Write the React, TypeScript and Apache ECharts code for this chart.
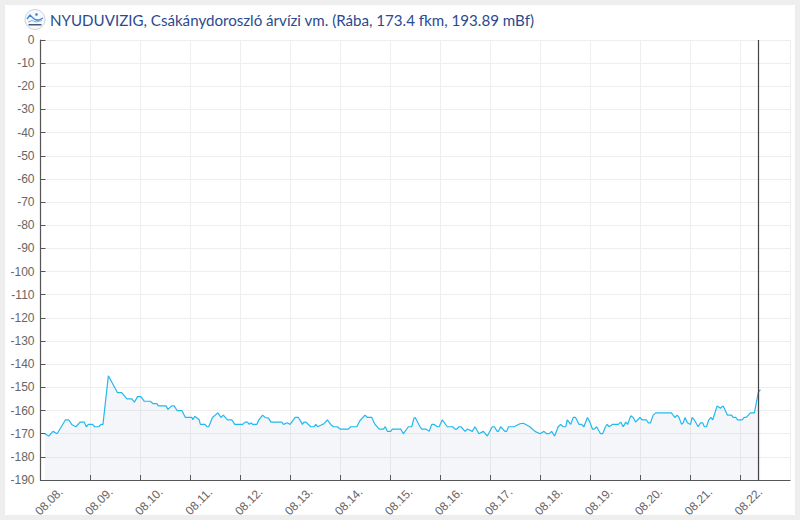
import React, { useEffect, useRef } from "react";
import * as echarts from "echarts";

const titleText = "NYUDUVIZIG, Csákánydoroszló árvízi vm. (Rába, 173.4 fkm, 193.89 mBf)";
const dayLabels = ["08.08.", "08.09.", "08.10.", "08.11.", "08.12.", "08.13.", "08.14.", "08.15.", "08.16.", "08.17.", "08.18.", "08.19.", "08.20.", "08.21.", "08.22."];
const nowHour = 344.8;

// hours since 08.08. 00:00
const hours = [
  2, 4, 6, 8, 10, 12, 13.5, 15, 17, 19, 21, 22, 23, 25, 26, 28, 29, 30, 32.6, 37, 39, 41.5, 43.9, 45.1, 46.6, 48.2, 49.9,
  52.7, 54, 55.9, 56.6, 60.3, 61.2, 63, 64.2, 65.6, 67.9, 69.6, 72.7, 73.2, 74.1, 76.2, 76.8, 79, 79.9, 80.8, 82.6, 85.2,
  86.7, 87.8, 89.8, 91.9, 93.3, 97.1, 98.3, 99.4, 100.3, 101, 102, 103.9, 104.7, 106.7, 107.9, 109.5, 110.7, 115.9, 116.7,
  118.6, 119.9, 122.3, 123.9, 125.8, 126.6, 127.5, 129.8, 131.4, 132.2, 133.1, 135.4, 136.2, 137.8, 139.4, 140.7, 142.6,
  143.9, 147.9, 149, 151.9, 153.5, 155.9, 157, 159.1, 160.7, 162.7, 164.7, 165.6, 166.6, 168.2, 169, 173, 174.3, 176.7,
  178.3, 179.4, 180, 182.3, 183.1, 185.1, 186.7, 187.9, 189.1, 190.6, 191.5, 193, 195.4, 198, 199.1, 200, 201, 202, 203.9,
  205, 207.4, 208.7, 210.6, 212.7, 214.6, 217, 218, 219.4, 220, 221, 223.1, 223.9, 224.8, 227.4, 230.3, 231.9, 233.1, 235,
  237.5, 239.9, 241.8, 243.1, 244.3, 245.5, 246.9, 248.7, 249.8, 251.1, 252.3, 253, 254.7, 255.9, 257, 258.7, 259.9, 261,
  262.7, 263.9, 265.1, 266, 267.1, 269, 270, 271.4, 272.2, 273.1, 274.7, 277.5, 278.7, 279.9, 281.1, 282, 283.5, 284.7,
  285.8, 287.9, 289, 291, 291.9, 293, 294.3, 295.5, 303, 304.7, 305.8, 306.7, 307.9, 308.7, 309.6, 310.7, 312.2, 313, 314,
  315.9, 317, 318, 318.9, 319.9, 321, 322, 322.9, 325, 326.6, 327.9, 330, 331.9, 332.7, 334, 334.7, 337, 338, 339, 341,
  342.9, 344.8, 345.8,
];
const levels = [
  -170, -171, -169, -170, -167, -164, -164, -166, -167, -165, -165, -167, -166, -166, -167, -167, -166, -166, -145, -152.3, -152.3, -155, -155, -156.4, -154, -154, -156,
  -156, -157, -157, -158, -158, -159.5, -158, -158, -160, -160, -163, -163, -164, -162.5, -164, -166, -166, -167, -167, -163, -161,
  -163, -162, -164, -164, -166, -166, -165, -165, -166, -165.3, -166, -166, -164.3, -162, -163, -163.3, -165, -165, -166,
  -165.3, -166, -163, -163, -166, -165, -165, -167, -167, -166, -167, -166, -165.7, -164, -166, -167, -167,
  -168, -168, -167, -167, -164.3, -162, -163, -163, -166, -168, -168, -167, -169, -169, -168, -168, -170, -167,
  -167, -163.3, -163, -167, -168, -168, -169, -166, -166, -167, -167, -164, -167, -167, -168, -168, -167, -167, -169,
  -168, -169, -167, -170, -169, -171, -167, -167, -169, -169, -167, -169, -169, -167, -167, -165.7, -165.5, -166, -167,
  -169, -170, -169, -170, -170, -169, -171, -167, -166, -167, -167, -164, -166, -163, -163, -166, -166, -167,
  -163, -165, -168, -168, -167, -170, -170, -167, -166, -167, -166, -166, -165, -167, -165, -166, -162.3, -163,
  -165, -163, -164, -164, -165.3, -165.3, -162, -161, -161, -163, -162, -163, -166, -165.3, -163, -165.3, -166, -163, -164,
  -167, -165.3, -165.3, -167, -167, -164, -163, -164, -158, -159, -158, -162, -162, -163, -163, -164, -164, -163, -163, -161,
  -161, -152, -151,
];

export default function App() {
  const ref = useRef<HTMLDivElement>(null);
  useEffect(() => {
    document.body.style.margin = "0";
    const chart = echarts.init(ref.current!, null, { renderer: "svg" });
    chart.setOption({
      animation: false,
      backgroundColor: "transparent",
      textStyle: { fontFamily: "Liberation Sans" },
      grid: { left: 40.5, right: 10, top: 40, bottom: 40, containLabel: false },
      xAxis: {
        type: "value",
        min: 0,
        max: 360,
        interval: 24,
        axisLine: { show: true, onZero: false, lineStyle: { color: "#555", width: 1.2 } },
        axisTick: { show: true, inside: true, length: 5, lineStyle: { color: "#555" } },
        splitLine: { show: true, lineStyle: { color: "#eeeeee" } },
        axisLabel: {
          rotate: 45,
          color: "#666",
          fontSize: 12,
          margin: 30,
          align: "center",
          verticalAlign: "middle",
          padding: [0, 0, 0, 24],
          showMinLabel: true,
          showMaxLabel: false,
          hideOverlap: false,
          formatter: (v: number) => dayLabels[Math.round(v / 24)] ?? "",
        },
      },
      yAxis: {
        type: "value",
        min: -190,
        max: 0,
        interval: 10,
        axisLine: { show: true, onZero: false, lineStyle: { color: "#555", width: 1.2 } },
        axisTick: { show: true, inside: true, length: 5, lineStyle: { color: "#555" } },
        splitLine: { show: true, lineStyle: { color: "#eeeeee" } },
        axisLabel: { color: "#666", fontSize: 12, margin: 6 },
      },
      series: [
        {
          type: "line",
          data: hours.map((h, i) => [h, levels[i]]),
          showSymbol: false,
          symbol: "none",
          smooth: false,
          lineStyle: { color: "#22b8f0", width: 1.2 },
          areaStyle: { color: "rgba(120,130,180,0.1)", origin: "start" },
          markLine: {
            silent: true,
            symbol: "none",
            label: { show: false },
            lineStyle: { color: "#444", width: 1.2, type: "solid" },
            data: [{ xAxis: nowHour }],
          },
        },
      ],
      graphic: [
        {
          type: "text",
          left: 50,
          top: 12,
          style: { text: titleText, fill: "#2c4a8e", font: "15.12px Lato" },
        },
        { type: "circle", shape: { cx: 35, cy: 19.5, r: 10 }, style: { fill: "#f7f8fb", stroke: "#ccd1df", lineWidth: 1 } },
        { type: "polyline", shape: { points: [[27, 19], [30, 15], [33, 18], [36, 20], [39, 20], [43, 18]] }, style: { stroke: "#3b86d6", fill: "none", lineWidth: 1.3 } },
        { type: "polyline", shape: { points: [[28, 22], [32, 20.5], [36, 22], [42, 20.5]] }, style: { stroke: "#7fb2e6", fill: "none", lineWidth: 1 } },
        { type: "circle", shape: { cx: 36.5, cy: 14.5, r: 1.3 }, style: { fill: "#3b86d6" } },
        { type: "rect", shape: { x: 28.5, y: 24, width: 13, height: 1.5 }, style: { fill: "#4a5875" } },
      ],
    });
    return () => chart.dispose();
  }, []);
  return (
    <div style={{ position: "relative", width: 800, height: 520, background: "#eeeeee", overflow: "hidden" }}>
      <div style={{ position: "absolute", left: 5, top: 5, width: 790, height: 510, background: "#fff" }} />
      <div ref={ref} style={{ position: "absolute", left: 0, top: 0, width: 800, height: 520 }} />
    </div>
  );
}
